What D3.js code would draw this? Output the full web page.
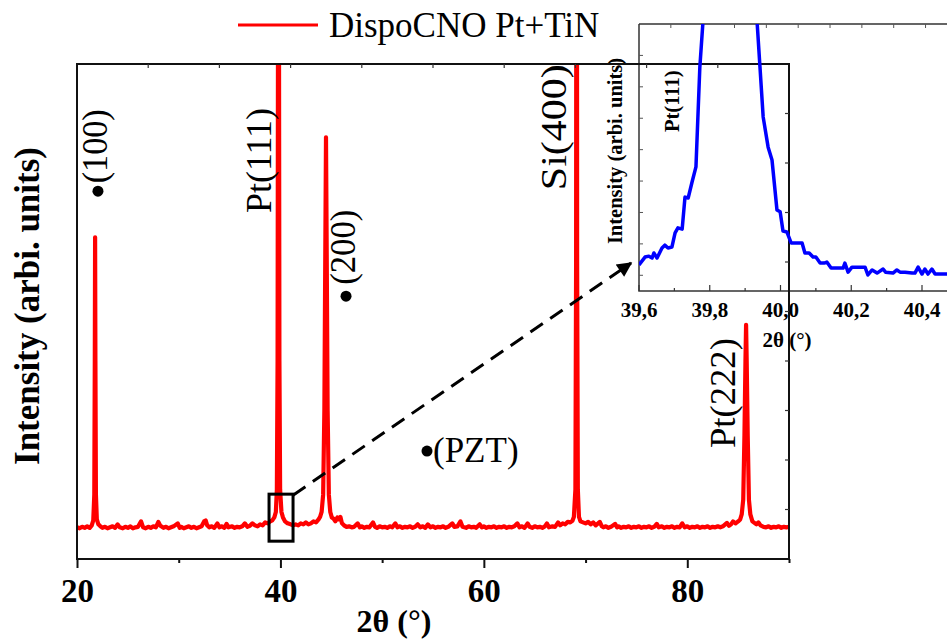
<!DOCTYPE html>
<html><head><meta charset="utf-8">
<script src="https://cdn.jsdelivr.net/npm/d3@7"></script>
<style>html,body{margin:0;padding:0;background:#fff;} svg{display:block;}</style>
</head><body><svg id="c" width="947" height="640"></svg>
<script>
// ---------- DATA ----------
const seriesName = "DispoCNO Pt+TiN";
// main pattern: [2theta (deg), intensity (arb.)]
const mainData = [
[20.00,64],[20.25,62],[20.5,65],[20.75,63],[21.0,66],[21.25,63],[21.45,68],[21.6,78],[21.7,130],[21.75,400],[21.78,650],[21.81,400],[21.86,130],[21.95,80],[22.1,70],[22.3,66],[22.5,63],[22.75,65],[23.0,62],[23.25,64],[23.5,66],[23.75,63],[24.0,70],[24.2,64],[24.5,62],[24.75,65],[25.0,63],[25.25,66],[25.5,62],[25.75,64],[26.0,65],[26.3,76],[26.5,64],[26.75,62],[27.0,65],[27.25,63],[27.5,66],[27.75,64],[28.0,75],[28.2,67],[28.5,63],[28.75,65],[29.0,62],[29.25,64],[29.5,66],[29.9,72],[30.1,63],[30.25,65],[30.5,62],[30.75,64],[31.0,66],[31.25,63],[31.5,65],[31.75,62],[32.0,64],[32.25,66],[32.5,76],[32.65,78],[32.8,68],[33.0,64],[33.25,66],[33.5,63],[33.8,72],[34.0,64],[34.25,66],[34.5,63],[34.7,71],[34.9,64],[35.25,66],[35.5,63],[35.75,65],[36.0,64],[36.25,66],[36.5,72],[36.75,65],[37.0,67],[37.25,72],[37.5,68],[37.75,66],[38.0,70],[38.25,68],[38.5,74],[38.75,72],[39.0,76],[39.2,78],[39.4,84],[39.55,95],[39.65,140],[39.72,400],[39.77,1200],[39.8,3000],[39.85,1200],[39.9,400],[39.97,140],[40.1,95],[40.25,84],[40.45,76],[40.7,72],[41.0,70],[41.25,68],[41.5,70],[41.75,68],[42.0,72],[42.25,70],[42.5,74],[42.75,70],[43.0,72],[43.25,76],[43.5,74],[43.75,80],[43.9,85],[44.05,95],[44.2,130],[44.32,300],[44.42,650],[44.48,852],[44.54,650],[44.64,300],[44.76,130],[44.9,95],[45.05,84],[45.2,82],[45.4,76],[45.6,84],[45.75,80],[45.9,85],[46.05,72],[46.25,68],[46.5,65],[46.75,66],[47.0,64],[47.25,65],[47.6,72],[47.8,64],[48.0,66],[48.25,63],[48.5,65],[48.75,64],[49.1,74],[49.3,65],[49.5,63],[49.75,66],[50.0,64],[50.25,65],[50.5,63],[50.75,66],[51.0,64],[51.3,72],[51.5,64],[51.75,66],[52.0,63],[52.25,65],[52.5,64],[52.75,66],[53.0,63],[53.25,65],[53.5,70],[53.75,64],[54.0,66],[54.25,63],[54.5,70],[54.75,64],[55.0,66],[55.25,63],[55.5,65],[55.75,64],[56.0,66],[56.25,63],[56.5,65],[56.9,72],[57.1,65],[57.4,66],[57.7,76],[57.9,65],[58.25,63],[58.5,66],[58.75,64],[59.0,65],[59.25,63],[59.6,70],[59.8,64],[60.0,66],[60.25,63],[60.5,65],[60.75,64],[61.0,66],[61.25,63],[61.5,65],[61.75,64],[62.0,66],[62.25,63],[62.5,65],[62.75,64],[63.0,66],[63.3,72],[63.5,64],[63.75,66],[64.0,63],[64.3,72],[64.5,65],[64.75,63],[65.0,66],[65.25,64],[65.5,65],[65.75,63],[66.0,66],[66.2,72],[66.4,64],[66.75,66],[67.0,65],[67.3,74],[67.5,68],[67.75,72],[68.0,70],[68.25,75],[68.5,74],[68.7,77],[68.85,85],[69.0,140],[69.07,600],[69.12,2500],[69.17,600],[69.24,140],[69.35,85],[69.5,76],[69.75,74],[70.0,72],[70.25,75],[70.5,70],[70.75,74],[71.0,68],[71.4,75],[71.6,66],[71.75,64],[72.0,66],[72.25,63],[72.5,65],[72.9,71],[73.1,64],[73.25,66],[73.5,63],[73.75,65],[74.0,64],[74.25,66],[74.5,63],[74.75,65],[75.0,64],[75.25,66],[75.5,63],[75.75,65],[76.0,64],[76.25,66],[76.5,63],[76.75,65],[77.0,71],[77.2,64],[77.5,66],[77.75,63],[78.0,65],[78.25,64],[78.5,66],[78.75,63],[79.0,65],[79.25,64],[79.5,72],[79.75,64],[80.0,66],[80.25,63],[80.5,65],[80.75,64],[81.0,66],[81.25,63],[81.5,65],[81.75,64],[82.0,66],[82.25,63],[82.5,65],[82.75,64],[83.0,66],[83.25,64],[83.5,66],[83.9,73],[84.1,67],[84.3,70],[84.5,76],[84.75,72],[85.0,76],[85.2,80],[85.35,90],[85.5,120],[85.62,250],[85.72,400],[85.78,473],[85.84,400],[85.94,250],[86.06,120],[86.2,90],[86.4,76],[86.6,73],[86.8,70],[87.0,74],[87.2,68],[87.5,65],[87.75,64],[88.0,66],[88.25,63],[88.5,65],[88.75,64],[89.0,66],[89.25,63],[89.5,65],[89.75,64],[90.0,65]
];
// inset (zoom on Pt(111)): [2theta, intensity (arb.)]
const insetData = [
[39.600,0.33],[39.617,0.58],[39.628,0.61],[39.637,0.55],[39.642,0.71],[39.651,0.55],[39.665,0.87],[39.673,0.96],[39.682,0.87],[39.693,0.90],[39.702,1.35],[39.710,1.51],[39.722,1.47],[39.730,2.49],[39.739,2.46],[39.750,2.97],[39.761,3.45],[39.772,6.63],[39.860,21],[39.942,6.63],[39.951,5.04],[39.965,4.08],[39.976,3.67],[39.990,2.08],[39.999,2.02],[40.007,1.41],[40.018,1.38],[40.030,1.03],[40.061,1.03],[40.069,0.71],[40.081,0.71],[40.092,0.58],[40.100,0.58],[40.112,0.39],[40.123,0.39],[40.131,0.42],[40.143,0.23],[40.177,0.23],[40.182,0.39],[40.191,0.10],[40.202,0.26],[40.239,0.26],[40.247,0.01],[40.259,0.17],[40.273,0.07],[40.290,0.20],[40.297,0.10],[40.318,0.07],[40.329,0.17],[40.338,0.10],[40.352,0.10],[40.372,0.07],[40.380,0.07],[40.389,0.26],[40.400,0.04],[40.408,0.20],[40.417,0.04],[40.428,0.20],[40.437,0.04],[40.471,0.04],[40.5,0.05]
];
const mainXTicks = [20, 40, 60, 80];
const mainXMinorTicks = [30, 50, 70, 90];
const mainTopTicks = [27, 34, 41, 48, 55, 62, 69, 76, 83];
const mainRightTicks = [100, 200, 300, 400, 500, 600, 700, 800, 900];
const insetXTicks = [39.6, 39.8, 40.0, 40.2, 40.4];
const insetXMinorTicks = [39.7, 39.9, 40.1, 40.3];
const insetTopTicks = [39.69, 39.78, 39.87, 39.96, 40.05, 40.14, 40.23, 40.32, 40.41];
const insetYTicks = [0, 1, 2, 3, 4, 5, 6, 7];
// peak annotations (rotated text) : label, baseline 2theta, start intensity, length px
const peakLabels = [
  {text: "(100)",   x: 22.95, y: 759, len: 74},
  {text: "Pt(111)", x: 39.07, y: 699, len: 105},
  {text: "(200)",   x: 47.33, y: 554, len: 75},
  {text: "Si(400)", x: 68.08, y: 745, len: 126},
  {text: "Pt(222)", x: 84.69, y: 224, len: 110}
];
const bullets = [[22.06, 743], [46.45, 531], [54.41, 218]];
const pztLabel = {text: "(PZT)", x: 55.0, y: 196};
const zoomBox = {x0: 38.88, x1: 41.24, y0: 36, y1: 131};
const arrow = {from: [41.24, 129], to: [74.47, 598]};

// ---------- DRAW ----------
const svg = d3.select("#c");
const serif = "'Liberation Serif','Times New Roman',Times,serif";
const L = 77, R = 789, T = 64, B = 559;
const x = d3.scaleLinear().domain([20, 90]).range([L, R]);
const y = d3.scaleLinear().domain([0, 1000]).range([B, T]);

const defs = svg.append("defs");
defs.append("clipPath").attr("id", "mclip").append("rect")
  .attr("x", L).attr("y", T).attr("width", R - L).attr("height", B - T);
defs.append("marker").attr("id", "ah").attr("viewBox", "0 0 10 10")
  .attr("refX", 9).attr("refY", 5).attr("markerWidth", 6).attr("markerHeight", 5)
  .attr("markerUnits", "strokeWidth").attr("orient", "auto")
  .append("path").attr("d", "M0,0 L10,5 L0,10 Z").attr("fill", "#000");

// main curve
svg.append("path").datum(mainData)
  .attr("clip-path", "url(#mclip)")
  .attr("fill", "none").attr("stroke", "#ff0000").attr("stroke-width", 4.2)
  .attr("stroke-linejoin", "round")
  .attr("d", d3.line().x(d => x(d[0])).y(d => y(d[1])));

// inset
const IL = 639, IT = 24, IB = 291;
const xi = d3.scaleLinear().domain([39.6, 40.5]).range([IL, IL + 0.9 * 353.75]);
const yi = d3.scaleLinear().domain([-0.5, 8]).range([IB, IT]);
defs.append("clipPath").attr("id", "iclip").append("rect")
  .attr("x", IL).attr("y", IT).attr("width", 947 - IL).attr("height", IB - IT);
const ig = svg.append("g");
ig.append("path").attr("d", `M${IL},${IT}H947M${IL},${IT}V${IB}H947`)
  .attr("fill", "none").attr("stroke", "#333").attr("stroke-width", 1.5);
ig.selectAll(".itt").data(insetTopTicks).join("line")
  .attr("x1", d => xi(d)).attr("x2", d => xi(d)).attr("y1", IT).attr("y2", IT + 4)
  .attr("stroke", "#555").attr("stroke-width", 1);
ig.selectAll(".iyt").data(insetYTicks).join("line")
  .attr("x1", IL).attr("x2", IL + 4).attr("y1", d => yi(d)).attr("y2", d => yi(d))
  .attr("stroke", "#555").attr("stroke-width", 1);
ig.selectAll(".ixt").data(insetXTicks).join("line")
  .attr("x1", d => xi(d)).attr("x2", d => xi(d)).attr("y1", IB).attr("y2", IB - 6)
  .attr("stroke", "#333").attr("stroke-width", 1.2);
ig.selectAll(".ixm").data(insetXMinorTicks).join("line")
  .attr("x1", d => xi(d)).attr("x2", d => xi(d)).attr("y1", IB).attr("y2", IB - 3)
  .attr("stroke", "#333").attr("stroke-width", 1.2);
const commaFmt = d3.formatLocale({decimal: ",", thousands: ".", grouping: [3], currency: ["", ""]}).format(".1f");
ig.selectAll(".ixl").data(insetXTicks).join("text")
  .attr("x", d => xi(d)).attr("y", 317).attr("text-anchor", "middle")
  .attr("font-family", serif).attr("font-weight", "bold").attr("font-size", 21)
  .text(d => commaFmt(d));
ig.append("text").attr("x", 787).attr("y", 347).attr("text-anchor", "middle")
  .attr("font-family", serif).attr("font-weight", "bold").attr("font-size", 21)
  .text("2θ (°)");
ig.append("text").attr("transform", "translate(622,151) rotate(-90)")
  .attr("text-anchor", "middle").attr("font-family", serif).attr("font-weight", "bold")
  .attr("font-size", 20.5).text("Intensity (arbi. units)");
ig.append("text").attr("transform", "translate(679,132) rotate(-90)")
  .attr("text-anchor", "start").attr("font-family", serif).attr("font-weight", "bold")
  .attr("font-size", 20.5).text("Pt(111)");

// main frame
const ax = svg.append("g");
ax.append("path").attr("d", `M${L},${T}H${R}V${B}H${L}Z`)
  .attr("fill", "none").attr("stroke", "#111").attr("stroke-width", 2);
ax.selectAll(".tt").data(mainTopTicks).join("line")
  .attr("x1", d => x(d)).attr("x2", d => x(d)).attr("y1", T).attr("y2", T + 4)
  .attr("stroke", "#333").attr("stroke-width", 1.2);
ax.selectAll(".rt").data(mainRightTicks).join("line")
  .attr("x1", R).attr("x2", R - 4).attr("y1", d => y(d)).attr("y2", d => y(d))
  .attr("stroke", "#333").attr("stroke-width", 1.2);
const bAxis = svg.append("g").attr("transform", `translate(0,${B})`)
  .call(d3.axisBottom(x).tickValues(mainXTicks).tickSize(9).tickPadding(11).tickFormat(d3.format("d")));
bAxis.select(".domain").remove();
bAxis.selectAll("line").attr("stroke", "#111").attr("stroke-width", 2);
bAxis.selectAll("text").attr("font-family", serif).attr("font-weight", "bold")
  .attr("font-size", 33).attr("fill", "#000");
const bMinor = svg.append("g").attr("transform", `translate(0,${B})`)
  .call(d3.axisBottom(x).tickValues(mainXMinorTicks).tickSize(4).tickFormat(""));
bMinor.select(".domain").remove();
bMinor.selectAll("line").attr("stroke", "#111").attr("stroke-width", 2);

// inset curve (on top)
svg.append("path").datum(insetData)
  .attr("clip-path", "url(#iclip)")
  .attr("fill", "none").attr("stroke", "#0000ff").attr("stroke-width", 3.5)
  .attr("stroke-linejoin", "round")
  .attr("d", d3.line().x(d => xi(d[0])).y(d => yi(d[1])));

// axis titles
svg.append("text").attr("x", 394).attr("y", 632).attr("text-anchor", "middle")
  .attr("font-family", serif).attr("font-weight", "bold").attr("font-size", 32)
  .text("2θ (°)");
svg.append("text").attr("transform", "translate(39,306) rotate(-90)")
  .attr("text-anchor", "middle").attr("font-family", serif).attr("font-weight", "bold")
  .attr("font-size", 35).text("Intensity (arbi. units)");

// legend
svg.append("line").attr("x1", 238).attr("x2", 318).attr("y1", 25).attr("y2", 25)
  .attr("stroke", "#ff0000").attr("stroke-width", 3);
svg.append("text").attr("x", 329).attr("y", 37).attr("font-family", serif)
  .attr("font-size", 35).text(seriesName);

// peak labels
svg.selectAll(".pl").data(peakLabels).join("text")
  .attr("transform", d => `translate(${x(d.x)},${y(d.y)}) rotate(-90)`)
  .attr("font-family", serif).attr("font-size", 35)
  .attr("textLength", d => d.len).attr("lengthAdjust", "spacingAndGlyphs")
  .text(d => d.text);
svg.selectAll(".bl").data(bullets).join("circle")
  .attr("cx", d => x(d[0])).attr("cy", d => y(d[1])).attr("r", 5.5).attr("fill", "#000");
svg.append("text").attr("x", x(pztLabel.x)).attr("y", y(pztLabel.y))
  .attr("font-family", serif).attr("font-size", 35).text(pztLabel.text);

// zoom box + arrow
svg.append("rect").attr("x", x(zoomBox.x0)).attr("y", y(zoomBox.y1))
  .attr("width", x(zoomBox.x1) - x(zoomBox.x0)).attr("height", y(zoomBox.y0) - y(zoomBox.y1))
  .attr("fill", "none").attr("stroke", "#000").attr("stroke-width", 3);
svg.append("line")
  .attr("x1", x(arrow.from[0])).attr("y1", y(arrow.from[1]))
  .attr("x2", x(arrow.to[0])).attr("y2", y(arrow.to[1]))
  .attr("stroke", "#000").attr("stroke-width", 3).attr("stroke-dasharray", "15,9")
  .attr("marker-end", "url(#ah)");
</script></body></html>
